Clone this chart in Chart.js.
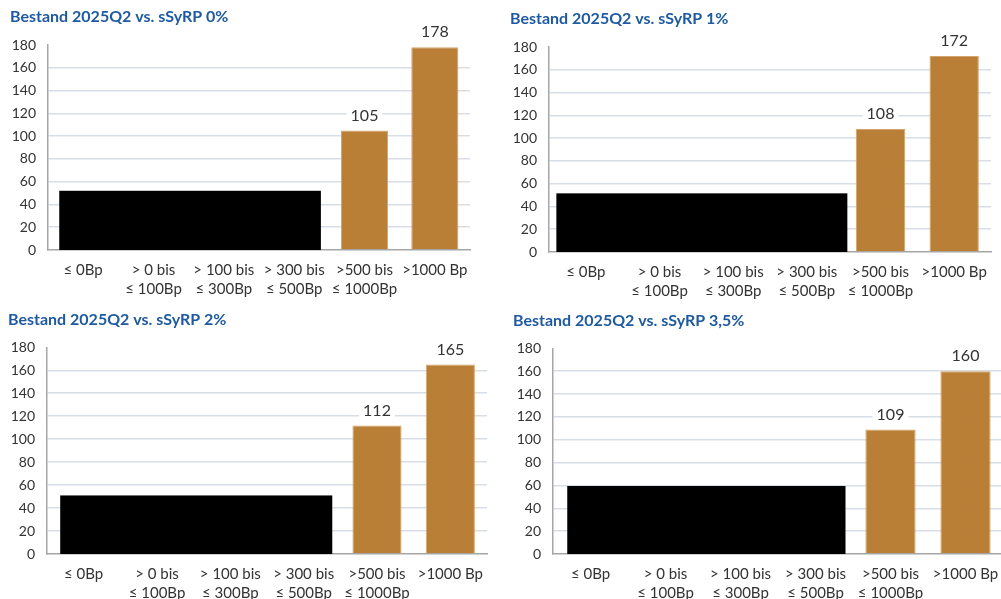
<!DOCTYPE html>
<html>
<head>
<meta charset="utf-8">
<script src="https://cdn.jsdelivr.net/npm/chart.js@4/dist/chart.umd.min.js"></script>
<style>
html,body{margin:0;padding:0;background:#fff;width:1001px;height:599px;overflow:hidden;position:relative;}
.box{position:absolute;}
canvas{display:block;}
</style>
</head>
<body>
<div class="box" id="b1" style="left:0;top:0;width:472px;height:300px"><canvas id="c1"></canvas></div>
<div class="box" id="b2" style="left:500px;top:0;width:493px;height:302px"><canvas id="c2"></canvas></div>
<div class="box" id="b3" style="left:0;top:300px;width:489px;height:304px"><canvas id="c3"></canvas></div>
<div class="box" id="b4" style="left:500px;top:300px;width:505px;height:304px"><canvas id="c4"></canvas></div>
<script>
// ---- data ----
const categories = [
  "≤ 0Bp",
  ["> 0 bis", "≤ 100Bp"],
  ["> 100 bis", "≤ 300Bp"],
  ["> 300 bis", "≤ 500Bp"],
  [">500 bis", "≤ 1000Bp"],
  [">1000 Bp"]
];
const titles = [
  "Bestand 2025Q2 vs. sSyRP 0%",
  "Bestand 2025Q2 vs. sSyRP 1%",
  "Bestand 2025Q2 vs. sSyRP 2%",
  "Bestand 2025Q2 vs. sSyRP 3,5%"
];
// first four categories are redacted (black box) in the source
const values0 = [null, null, null, null, 105, 178];
const values1 = [null, null, null, null, 108, 172];
const values2 = [null, null, null, null, 112, 165];
const values3 = [null, null, null, null, 109, 160];
const redactedHeight = [52, 51.5, 51, 59.5];
const yTicks = [0, 20, 40, 60, 80, 100, 120, 140, 160, 180];

const series = [values0, values1, values2, values3];

// ---- layout per panel ----
const panels = [
  {id:'c1', padL:10, yW:38, tTop:7.4,  tBot:18.4, redL:-0.34, redR:3.38},
  {id:'c2', padL:10, yW:39, tTop:9.7,  tBot:18.1, redL:-0.40, redR:3.55},
  {id:'c3', padL:8,  yW:39, tTop:10.4, tBot:17.7, redL:-0.32, redR:3.39},
  {id:'c4', padL:13, yW:40, tTop:11.1, tBot:18.0, redL:-0.31, redR:3.40}
];

const FONT = "Lato, 'Open Sans', sans-serif";

const redactPlugin = {
  id: 'redact',
  afterDatasetsDraw(chart, args, opts) {
    const x = chart.scales.x, y = chart.scales.y;
    const step = x.getPixelForValue(1) - x.getPixelForValue(0);
    const left = x.getPixelForValue(0) + opts.from * step;
    const right = x.getPixelForValue(0) + opts.to * step;
    const top = y.getPixelForValue(opts.height);
    const bottom = y.getPixelForValue(0);
    const ctx = chart.ctx;
    ctx.save();
    ctx.fillStyle = '#000';
    ctx.fillRect(left, top, right - left, bottom - top);
    ctx.restore();
  }
};

const labelPlugin = {
  id: 'valueLabels',
  afterDatasetsDraw(chart) {
    const ctx = chart.ctx;
    const meta = chart.getDatasetMeta(0);
    const data = chart.data.datasets[0].data;
    ctx.save();
    ctx.font = "16px " + FONT;
    ctx.textAlign = 'center';
    ctx.textBaseline = 'middle';
    meta.data.forEach((bar, i) => {
      const v = data[i];
      if (v === null || v === undefined) return;
      const txt = String(v);
      const w = ctx.measureText(txt).width;
      const cy = bar.y - 15;
      ctx.fillStyle = '#fff';
      ctx.fillRect(bar.x - w / 2 - 4, cy - 9, w + 8, 18);
      ctx.fillStyle = '#333';
      ctx.fillText(txt, bar.x, cy);
    });
    ctx.restore();
  }
};

panels.forEach((p, k) => {
  new Chart(document.getElementById(p.id), {
    type: 'bar',
    data: {
      labels: categories,
      datasets: [{
        data: series[k],
        backgroundColor: '#ba7f36',
        borderColor: '#d4a56a',
        borderWidth: 1,
        borderSkipped: 'bottom',
        barPercentage: 0.67,
        categoryPercentage: 1.0
      }]
    },
    options: {
      responsive: true,
      maintainAspectRatio: false,
      animation: false,
      events: [],
      layout: { padding: { left: p.padL, right: 2, top: 0, bottom: 0 } },
      plugins: {
        legend: { display: false },
        tooltip: { enabled: false },
        title: {
          display: true,
          text: titles[k],
          align: 'start',
          color: '#1f5aa0',
          font: { family: FONT, size: 16, weight: 'bold', lineHeight: 1.2 },
          padding: { top: p.tTop, bottom: p.tBot }
        },
        redact: { from: p.redL, to: p.redR, height: redactedHeight[k] }
      },
      scales: {
        x: {
          grid: { display: false, drawTicks: false },
          border: { display: true, color: '#a6a6a6', width: 1.5 },
          ticks: {
            color: '#333',
            padding: 11,
            maxRotation: 0,
            autoSkip: false,
            font: { family: FONT, size: 15, lineHeight: 1.27 }
          },
          afterFit(s) { s.height = 50; s.paddingLeft = 0; s.paddingRight = 0; }
        },
        y: {
          min: 0,
          max: 180,
          afterBuildTicks(s) { s.ticks = yTicks.map(v => ({ value: v })); },
          grid: {
            drawTicks: false,
            color: ctx => (ctx.tick && (ctx.tick.value === 0 || ctx.tick.value === 180)) ? 'rgba(0,0,0,0)' : '#d8dee6',
            lineWidth: 1.5
          },
          border: { display: true, color: '#a6a6a6', width: 1.5 },
          ticks: {
            color: '#333',
            padding: 12,
            font: { family: FONT, size: 14 }
          },
          afterFit(s) { s.width = p.yW; }
        }
      }
    },
    plugins: [redactPlugin, labelPlugin]
  });
});
</script>
</body>
</html>
